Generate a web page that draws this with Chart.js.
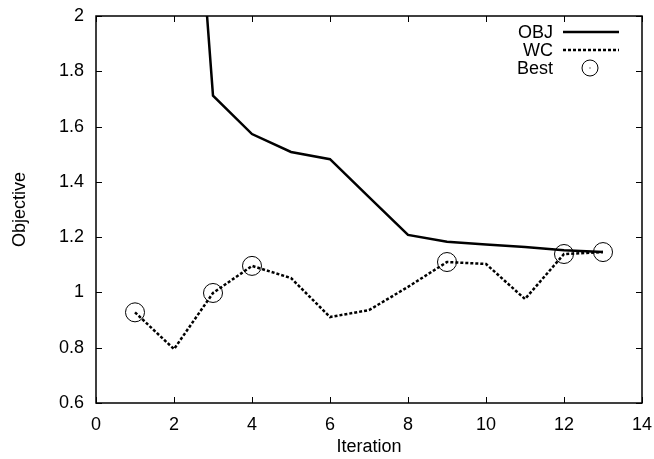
<!DOCTYPE html>
<html>
<head>
<meta charset="utf-8">
<script src="https://cdn.jsdelivr.net/npm/chart.js@4.4.0/dist/chart.umd.min.js"></script>
<style>
html,body{margin:0;padding:0;background:#fff;}
#wrap{width:654px;height:459px;}
</style>
</head>
<body>
<div id="wrap"><canvas id="c" width="654" height="459"></canvas></div>
<script>
const iterations = [1, 2, 3, 4, 5, 6, 7, 8, 9, 10, 11, 12, 13];
const objValues = [null, 3.6, 1.712, 1.573, 1.508, 1.482, 1.345, 1.208, 1.183, 1.173, 1.164, 1.153, 1.146];
const wcValues = [0.928, 0.795, 0.998, 1.096, 1.052, 0.911, 0.936, 1.02, 1.11, 1.103, 0.976, 1.139, 1.146];
const bestIterations = [1, 3, 4, 9, 12, 13];
const bestValues = [0.928, 0.998, 1.096, 1.11, 1.139, 1.146];
const xTicks = [0, 2, 4, 6, 8, 10, 12, 14];
const yTicks = [0.6, 0.8, 1, 1.2, 1.4, 1.6, 1.8, 2];

const FONT = 'Liberation Sans, Arial, Helvetica, sans-serif';
const FS = 18;

const toPts = (xs, ys) => xs.map((x, i) => ({x: x, y: ys[i]}));

const framePlugin = {
  id: 'frame',
  beforeDatasetsDraw(chart) {
    const ctx = chart.ctx, a = chart.chartArea;
    const xs = chart.scales.x, ys = chart.scales.y;
    const L = 6;
    ctx.save();
    ctx.strokeStyle = '#000';
    ctx.lineWidth = 1;
    ctx.beginPath();
    xTicks.forEach(v => {
      const p = Math.round(xs.getPixelForValue(v)) + 0.5;
      ctx.moveTo(p, a.bottom); ctx.lineTo(p, a.bottom - L);
      ctx.moveTo(p, a.top); ctx.lineTo(p, a.top + L);
    });
    yTicks.forEach(v => {
      const p = Math.round(ys.getPixelForValue(v)) + 0.5;
      ctx.moveTo(a.left, p); ctx.lineTo(a.left + L, p);
      ctx.moveTo(a.right, p); ctx.lineTo(a.right - L, p);
    });
    ctx.stroke();
    ctx.lineWidth = 1.5;
    ctx.strokeRect(a.left, a.top, a.right - a.left, a.bottom - a.top);
    ctx.restore();
  },
  afterDraw(chart) {
    const ctx = chart.ctx, a = chart.chartArea;
    const textRight = a.right - 89;
    const sx0 = a.right - 79, sx1 = a.right - 23;
    ctx.save();
    ctx.font = FS + 'px ' + FONT;
    ctx.fillStyle = '#000';
    ctx.textAlign = 'right';
    ctx.textBaseline = 'middle';
    chart.data.datasets.forEach((ds, i) => {
      const y = a.top + 16 + i * 18;
      ctx.fillText(ds.label, textRight, y + 1);
      ctx.strokeStyle = '#000';
      if (ds.showLine === false) {
        ctx.lineWidth = 1;
        ctx.setLineDash([]);
        ctx.beginPath();
        ctx.arc((sx0 + sx1) / 2 - 1, y, 8, 0, Math.PI * 2);
        ctx.stroke();
        ctx.fillRect((sx0 + sx1) / 2 - 1.5, y - 0.5, 1, 1);
      } else {
        ctx.lineWidth = ds.borderWidth;
        ctx.setLineDash(ds.borderDash || []);
        ctx.beginPath();
        ctx.moveTo(sx0, y); ctx.lineTo(sx1, y);
        ctx.stroke();
      }
    });
    ctx.restore();
  }
};

new Chart(document.getElementById('c'), {
  type: 'scatter',
  data: {
    datasets: [
      {
        label: 'OBJ',
        data: toPts(iterations, objValues),
        showLine: true,
        borderColor: '#000',
        borderWidth: 2.5,
        pointRadius: 0,
        spanGaps: false,
        tension: 0
      },
      {
        label: 'WC',
        data: toPts(iterations, wcValues),
        showLine: true,
        borderColor: '#000',
        borderWidth: 2.5,
        borderDash: [3, 2],
        pointRadius: 0,
        tension: 0
      },
      {
        label: 'Best',
        data: toPts(bestIterations, bestValues),
        showLine: false,
        pointStyle: 'circle',
        pointRadius: 9.5,
        pointBorderWidth: 1,
        pointBorderColor: '#000',
        pointBackgroundColor: 'rgba(0,0,0,0)'
      }
    ]
  },
  options: {
    responsive: false,
    animation: false,
    layout: {padding: {top: 16, right: 12, left: 0, bottom: 0}},
    plugins: {legend: {display: false}, tooltip: {enabled: false}},
    scales: {
      x: {
        type: 'linear', min: 0, max: 14,
        afterBuildTicks: s => { s.ticks = xTicks.map(v => ({value: v})); },
        afterFit: s => { s.height = 56; s.paddingLeft = 0; s.paddingRight = 0; },
        grid: {display: false, drawTicks: false},
        border: {display: false},
        ticks: {color: '#000', font: {family: FONT, size: FS}, padding: 11, maxRotation: 0,
                callback: v => String(v)},
        title: {display: true, text: 'Iteration', color: '#000', font: {family: FONT, size: FS}, padding: {top: 0, bottom: 1}}
      },
      y: {
        type: 'linear', min: 0.6, max: 2,
        afterBuildTicks: s => { s.ticks = yTicks.map(v => ({value: v})); },
        afterFit: s => { s.width = 96; s.paddingTop = 0; s.paddingBottom = 0; },
        grid: {display: false, drawTicks: false},
        border: {display: false},
        ticks: {color: '#000', font: {family: FONT, size: FS}, padding: 12,
                callback: v => String(Math.round(v * 10) / 10)},
        title: {display: true, text: 'Objective', color: '#000', font: {family: FONT, size: FS}, padding: {top: 9, bottom: 0}}
      }
    }
  },
  plugins: [framePlugin]
});
</script>
</body>
</html>
